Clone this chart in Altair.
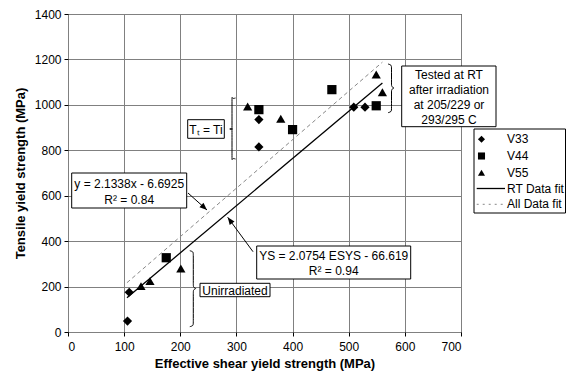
import altair as alt
import pandas as pd
import math

# ---------------- data ----------------
v33_x = [106, 109, 340, 340, 509, 529]
v33_y = [48, 175, 935, 815, 990, 990]
v44_x = [175, 340, 400, 470, 549]
v44_y = [327, 979, 891, 1067, 996]
v55_x = [130, 146, 201, 320, 379, 549, 560]
v55_y = [202, 224, 280, 993, 939, 1134, 1056]

series_names = ["V33", "V44", "V55"]
series_shapes = ["diamond", "square", "triangle-up"]

fit_names = ["RT Data fit", "All Data fit"]
rt_fit_x = [105, 560]
rt_fit_y = [151, 1096]
all_fit_x = [105, 560]
all_fit_y = [217, 1188]

x_ticks = [0, 100, 200, 300, 400, 500, 600, 700]
y_ticks = [0, 200, 400, 600, 800, 1000, 1200, 1400]

FONT = "Liberation Sans"

# ---------------- layout helpers (page pixel -> data units) ----------------
W, H = 393, 318
L, T = 68, 14


def dx(px):
    return (px - L) * 700 / W


def dy(py):
    return (T + H - py) * 1400 / H


xs = alt.Scale(domain=[0, 700], nice=False)
ys = alt.Scale(domain=[0, 1400], nice=False)

rows = []
for name, xv, yv in zip(series_names, [v33_x, v44_x, v55_x], [v33_y, v44_y, v55_y]):
    for a, b in zip(xv, yv):
        rows.append({"series": name, "esys": a, "ys": b})
pts = pd.DataFrame(rows)

fit_rows = []
for name, xv, yv in zip(fit_names, [rt_fit_x, all_fit_x], [rt_fit_y, all_fit_y]):
    for a, b in zip(xv, yv):
        fit_rows.append({"fit": name, "esys": a, "ys": b})
fits = pd.DataFrame(fit_rows)

points = alt.Chart(pts).mark_point(filled=True, color="black", size=85, opacity=1).encode(
    x=alt.X("esys:Q", scale=xs,
            axis=alt.Axis(values=x_ticks, format="d", title="Effective shear yield strength (MPa)")),
    y=alt.Y("ys:Q", scale=ys,
            axis=alt.Axis(values=y_ticks, format="d", title="Tensile yield strength (MPa)")),
    shape=alt.Shape("series:N", scale=alt.Scale(domain=series_names, range=series_shapes),
                    legend=None),
)

rt_line = alt.Chart(fits[fits.fit == "RT Data fit"]).mark_line(
    color="black", strokeWidth=1.3).encode(x=alt.X("esys:Q", scale=xs), y=alt.Y("ys:Q", scale=ys))
all_line = alt.Chart(fits[fits.fit == "All Data fit"]).mark_line(
    color="#888888", strokeWidth=1, strokeDash=[4, 3]).encode(
    x=alt.X("esys:Q", scale=xs), y=alt.Y("ys:Q", scale=ys))

# ---------------- annotation boxes ----------------
LG = -5  # legend horizontal shift so it fits inside the page
boxes = [
    (71.7, 173, 186.7, 208),
    (256.7, 246, 410.7, 279),
    (200, 283.3, 270, 296.7),
    (187.7, 119.7, 224.3, 138.3),
    (401.7, 66, 496, 126.7),
    (479 + LG, 129, 565.5, 213),
]
box_df = pd.DataFrame([{"x": dx(a), "y": dy(b), "x2": dx(c), "y2": dy(d)} for a, b, c, d in boxes])
box_layer = alt.Chart(box_df).mark_rect(fill="white", stroke="black", strokeWidth=1).encode(
    x=alt.X("x:Q", scale=xs), y=alt.Y("y:Q", scale=ys), x2="x2:Q", y2="y2:Q")

texts = [
    ("y = 2.1338x - 6.6925", 129.2, 183.5),
    ("R² = 0.84", 129.2, 199.5),
    ("YS = 2.0754 ESYS - 66.619", 333.7, 255.5),
    ("R² = 0.94", 333.7, 271),
    ("Unirradiated", 235, 290.5),
    ("Tₜ = Ti", 206, 129.5),
    ("Tested at RT", 449, 74.5),
    ("after irradiation", 449, 89.5),
    ("at 205/229 or", 449, 104.5),
    ("293/295  C", 449, 119.5),
]
text_df = pd.DataFrame([{"t": s, "x": dx(a), "y": dy(b)} for s, a, b in texts])
text_layer = alt.Chart(text_df).mark_text(font=FONT, fontSize=12, color="black",
                                          align="center", baseline="middle").encode(
    x=alt.X("x:Q", scale=xs), y=alt.Y("y:Q", scale=ys), text="t:N")


# ---------------- braces ----------------
def brace(bid, x0, yt, yb, ym, w):
    p = [(x0 - w, yt), (x0, yt + 1), (x0, yt + w), (x0, ym - w), (x0, ym - 1), (x0 + w, ym),
         (x0, ym + 1), (x0, ym + w), (x0, yb - w), (x0, yb - 1), (x0 - w, yb)]
    return [{"b": bid, "i": i, "x": dx(a), "y": dy(c)} for i, (a, c) in enumerate(p)]


br = brace(0, 193.3, 250.7, 326.7, 288.5, 3.5) + brace(1, 232, 98, 159, 129, -3.5) + \
    brace(2, 391.5, 64, 112.7, 88, 3.5)
brace_layer = alt.Chart(pd.DataFrame(br)).mark_line(
    color="black", strokeWidth=1, interpolate="basis").encode(
    x=alt.X("x:Q", scale=xs), y=alt.Y("y:Q", scale=ys), detail="b:N", order="i:Q")

# ---------------- arrows ----------------
arrows = [(188, 193, 207, 210), (253, 251.7, 227.7, 217.3)]
arr_df = pd.DataFrame([{"x": dx(a), "y": dy(b), "x2": dx(c), "y2": dy(d)} for a, b, c, d in arrows])
arr_lines = alt.Chart(arr_df).mark_rule(color="black", strokeWidth=1).encode(
    x=alt.X("x:Q", scale=xs), y=alt.Y("y:Q", scale=ys), x2="x2:Q", y2="y2:Q")
heads = []
for a, b, c, d in arrows:
    ang = math.degrees(math.atan2(d - b, c - a)) % 360
    heads.append({"x": dx(c), "y": dy(d), "ang": ang})
head_layer = alt.Chart(pd.DataFrame(heads)).mark_point(
    shape="M0,0 L-2,-0.8 L-2,0.8 Z", filled=True, color="black", size=55, opacity=1).encode(
    x=alt.X("x:Q", scale=xs), y=alt.Y("y:Q", scale=ys),
    angle=alt.Angle("ang:Q", scale=None))

# ---------------- custom legend ----------------
leg_layers = []
row_y = [139.3, 156, 172.7, 188.5, 204.3]
for i, (name, shp) in enumerate(zip(series_names, series_shapes)):
    leg_layers.append(alt.Chart(pd.DataFrame({"n": [name]})).mark_point(
        shape=shp, filled=True, color="black", size=50, opacity=1).encode(
        x=alt.value(486.5 + LG - L), y=alt.value(row_y[i] - T)))
for j, name in enumerate(fit_names):
    yy = row_y[3 + j] - T
    if j == 0:
        m = alt.Chart(pd.DataFrame({"n": [name]})).mark_rule(color="black", strokeWidth=1.3)
    else:
        m = alt.Chart(pd.DataFrame({"n": [name]})).mark_rule(color="#888888", strokeWidth=1,
                                                             strokeDash=[2, 4])
    leg_layers.append(m.encode(x=alt.value(481.7 + LG - L), x2=alt.value(510 + LG - L),
                               y=alt.value(yy)))
all_names = series_names + fit_names
for i, name in enumerate(all_names):
    leg_layers.append(alt.Chart(pd.DataFrame({"n": [name]})).mark_text(
        text=name, font=FONT, fontSize=12, align="left", baseline="middle", color="black").encode(
        x=alt.value(512 + LG - L), y=alt.value(row_y[i] - T)))

chart = alt.layer(
    all_line, rt_line, points, arr_lines, head_layer, brace_layer, box_layer, text_layer,
    *leg_layers
).properties(
    width=W, height=H,
    autosize=alt.AutoSizeParams(type="none"),
    padding={"left": L - 8, "top": T - 8, "right": 558 - (L - 8) - W, "bottom": 364 - (T - 8) - H},
).configure_view(
    stroke="black", strokeWidth=1
).configure_axis(
    grid=True, gridColor="#808080", gridWidth=1, domain=False,
    tickColor="black", tickSize=4, labelFont=FONT, labelFontSize=12, labelColor="black",
    titleFont=FONT, titleFontSize=13, titleFontWeight="bold", titleColor="black",
).configure_axisX(
    labelPadding=5, titlePadding=5
).configure_axisY(
    labelPadding=3, titlePadding=7
)

chart.save("out.html", embed_options={"renderer": "svg", "actions": False})
